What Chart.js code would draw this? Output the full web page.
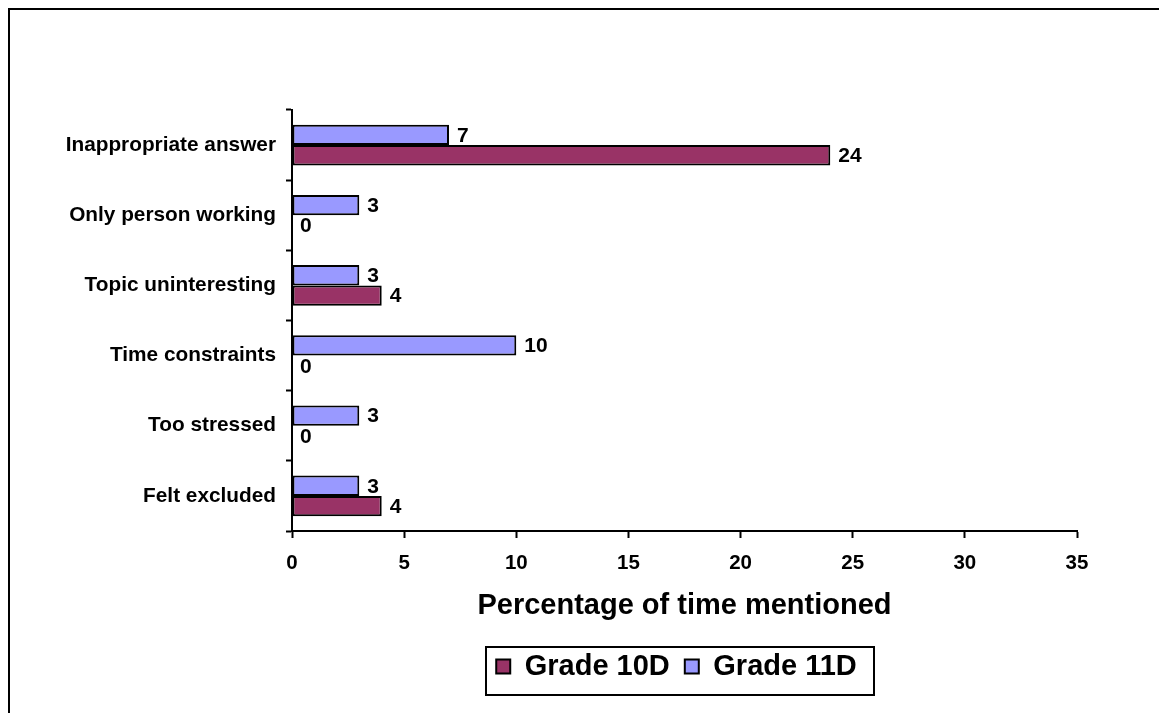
<!DOCTYPE html>
<html>
<head>
<meta charset="utf-8">
<script src="https://cdn.jsdelivr.net/npm/chart.js@4"></script>
<style>
  html, body { margin: 0; padding: 0; background: #fff; overflow: hidden; }
  #wrap { position: relative; width: 1159px; height: 713px; }
  #frame { position: absolute; left: 8px; top: 8px; width: 1200px; height: 800px;
           border-left: 2px solid #000; border-top: 2px solid #000; pointer-events: none; }
</style>
</head>
<body>
<div id="wrap">
  <canvas id="c" width="1159" height="713"></canvas>
  <div id="frame"></div>
</div>
<script>
const categories = [
  'Inappropriate answer',
  'Only person working',
  'Topic uninteresting',
  'Time constraints',
  'Too stressed',
  'Felt excluded'
];
const grade10D = [24, 0, 4, 0, 0, 4];
const grade11D = [7, 3, 3, 10, 3, 3];
const xTicks = [0, 5, 10, 15, 20, 25, 30, 35];

const FONT = '"Liberation Sans", Arial, sans-serif';

// value labels next to each bar end
const valueLabels = {
  id: 'valueLabels',
  afterDatasetsDraw(chart) {
    const ctx = chart.ctx;
    ctx.save();
    ctx.font = 'bold 21px ' + FONT;
    ctx.fillStyle = '#000';
    ctx.textBaseline = 'middle';
    ctx.textAlign = 'left';
    chart.data.datasets.forEach((ds, i) => {
      chart.getDatasetMeta(i).data.forEach((bar, j) => {
        ctx.fillText(String(ds.data[j]), bar.x + 8, bar.y + 1);
      });
    });
    ctx.restore();
  }
};

// fixed legend band height, slight left shift, and a box around the legend entries
const legendBox = {
  id: 'legendBox',
  beforeLayout(chart) {
    const lg = chart.legend;
    if (lg && !lg._fixedFit) {
      const fit = lg.fit;
      lg.fit = function () { fit.call(this); this.height = 76; };
      lg._fixedFit = true;
    }
  },
  afterLayout(chart) {
    const lg = chart.legend;
    if (lg) { lg.left -= 8; lg.right -= 8; }
  },
  afterDraw(chart) {
    const boxes = chart.legend && chart.legend.legendHitBoxes;
    if (!boxes || !boxes.length) return;
    let l = Infinity, r = -Infinity, t = Infinity, b = -Infinity;
    boxes.forEach(h => {
      l = Math.min(l, h.left); r = Math.max(r, h.left + h.width);
      t = Math.min(t, h.top); b = Math.max(b, h.top + h.height);
    });
    const cy = (t + b) / 2;
    const ctx = chart.ctx;
    ctx.save();
    ctx.strokeStyle = '#000';
    ctx.lineWidth = 2;
    ctx.strokeRect(Math.round(l - 10), Math.round(cy - 20), Math.round(r - l + 27), 48);
    ctx.restore();
  }
};

new Chart(document.getElementById('c'), {
  type: 'bar',
  data: {
    labels: categories,
    datasets: [
      { label: 'Grade 11D', data: grade11D, backgroundColor: '#9999FF',
        borderColor: '#000', borderWidth: 2, borderSkipped: false },
      { label: 'Grade 10D', data: grade10D, backgroundColor: '#993366',
        borderColor: '#000', borderWidth: 2, borderSkipped: false }
    ]
  },
  options: {
    indexAxis: 'y',
    responsive: false,
    animation: false,
    devicePixelRatio: 1,
    layout: { padding: { left: 10, right: 82, top: 110, bottom: 0 } },
    datasets: { bar: { barPercentage: 1, categoryPercentage: 0.58 } },
    scales: {
      y: {
        type: 'category',
        afterFit(scale) { scale.width = 282; },
        grid: { offset: true, drawOnChartArea: false, drawTicks: true, tickLength: 6,
                tickColor: '#000', tickWidth: 2 },
        border: { display: true, color: '#000', width: 2 },
        ticks: { color: '#000', padding: 10, font: { family: FONT, size: 20.8, weight: 'bold' } }
      },
      x: {
        type: 'linear',
        min: xTicks[0],
        max: xTicks[xTicks.length - 1],
        afterFit(scale) { scale.height = 106; },
        afterBuildTicks(scale) { scale.ticks = xTicks.map(v => ({ value: v })); },
        grid: { drawOnChartArea: false, drawTicks: true, tickLength: 7,
                tickColor: '#000', tickWidth: 2 },
        border: { display: true, color: '#000', width: 2 },
        ticks: { color: '#000', padding: 13, font: { family: FONT, size: 20.5, weight: 'bold' } },
        title: { display: true, text: 'Percentage of time mentioned', color: '#000',
                 padding: { top: 0, bottom: 14 },
                 font: { family: FONT, size: 29, weight: 'bold' } }
      }
    },
    plugins: {
      tooltip: { enabled: false },
      legend: {
        position: 'bottom',
        fullSize: false,
        labels: {
          color: '#000',
          boxWidth: 14,
          boxHeight: 14,
          padding: 15,
          font: { family: FONT, size: 29, weight: 'bold' },
          sort: (a, b) => b.datasetIndex - a.datasetIndex
        }
      }
    }
  },
  plugins: [valueLabels, legendBox]
});
</script>
</body>
</html>
